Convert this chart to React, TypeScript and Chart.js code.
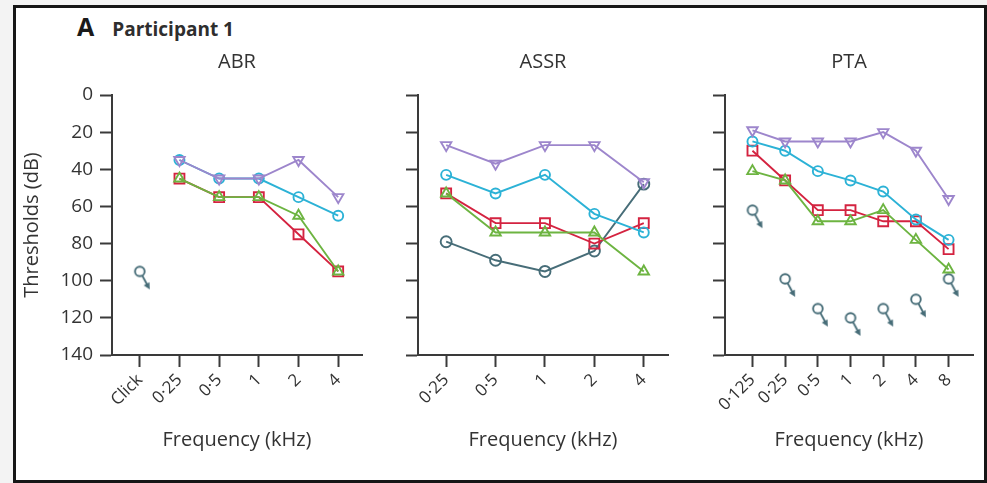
import React, { useEffect, useRef } from 'react';
import { Chart, registerables } from 'chart.js';

Chart.register(...registerables);

// ---------- data ----------
const abrLabels = ['Click', '0·25', '0·5', '1', '2', '4'];
const abrPurple = [null, 35, 45, 45, 35, 55];
const abrCyan = [null, 35, 45, 45, 55, 65];
const abrGreen = [null, 45, 55, 55, 65, 95];
const abrRed = [null, 45, 55, 55, 75, 95];
const abrNoResponse = [95, null, null, null, null, null];

const assrLabels = ['0·25', '0·5', '1', '2', '4'];
const assrPurple = [27, 37, 27, 27, 47];
const assrCyan = [43, 53, 43, 64, 74];
const assrRed = [53, 69, 69, 80, 69];
const assrGreen = [53, 74, 74, 74, 95];
const assrTeal = [79, 89, 95, 84, 48];

const ptaLabels = ['0·125', '0·25', '0·5', '1', '2', '4', '8'];
const ptaPurple = [19, 25, 25, 25, 20, 30, 56];
const ptaCyan = [25, 30, 41, 46, 52, 67, 78];
const ptaRed = [30, 46, 62, 62, 68, 68, 83];
const ptaGreen = [41, 46, 68, 68, 62, 78, 94];
const ptaNoResponse = [62, 99, 115, 120, 115, 110, 99];

const yTicks = [0, 20, 40, 60, 80, 100, 120, 140];

// ---------- styles ----------
const FONT = '"Open Sans", sans-serif';
const AXIS = '#3a3a3a';
const TEXT = '#333333';
const PURPLE = '#9d86cc';
const CYAN = '#2cb2d6';
const RED = '#d42340';
const GREEN = '#6db441';
const TEAL = '#476d78';

function toPoints(arr: (number | null)[]) {
  const out: { x: number; y: number }[] = [];
  arr.forEach((v, i) => {
    if (v !== null && v !== undefined) out.push({ x: i, y: v });
  });
  return out;
}

function makeNoResponseMarker(color: string) {
  const c = document.createElement('canvas');
  c.width = 26;
  c.height = 44;
  const ctx = c.getContext('2d')!;
  const cx = 13, cy = 22, r = 4.8;
  ctx.strokeStyle = color;
  ctx.fillStyle = color;
  ctx.lineWidth = 1.9;
  ctx.beginPath();
  ctx.arc(cx, cy, r, 0, Math.PI * 2);
  ctx.stroke();
  const dx = 0.5, dy = 0.866;
  const ex = cx + 10, ey = cy + 18;
  ctx.beginPath();
  ctx.moveTo(cx + dx * r, cy + dy * r);
  ctx.lineTo(ex - dx * 4, ey - dy * 4);
  ctx.stroke();
  const L = 6.5, W = 3.3;
  const bx = ex - dx * L, by = ey - dy * L;
  const px = -dy, py = dx;
  ctx.beginPath();
  ctx.moveTo(ex, ey);
  ctx.lineTo(bx + px * W, by + py * W);
  ctx.lineTo(bx - px * W, by - py * W);
  ctx.closePath();
  ctx.fill();
  return c;
}

function series(data: (number | null)[], color: string, style: string, radius: number, rotation = 0, showLine = true) {
  return {
    data: toPoints(data),
    borderColor: color,
    backgroundColor: 'rgba(0,0,0,0)',
    pointBackgroundColor: 'rgba(0,0,0,0)',
    pointBorderColor: color,
    pointStyle: style,
    pointRotation: rotation,
    pointRadius: radius,
    pointBorderWidth: 1.9,
    borderWidth: 1.9,
    tension: 0,
    showLine,
    clip: false as any,
  };
}

type PanelProps = {
  left: number;
  width: number;
  title: string;
  labels: string[];
  xMin: number;
  xMax: number;
  yAxisWidth: number;
  showYLabels: boolean;
  padRight: number;
  build: () => any[];
};

function Panel(p: PanelProps) {
  const ref = useRef<HTMLCanvasElement | null>(null);
  useEffect(() => {
    const canvas = ref.current!;
    const chart = new Chart(canvas, {
      type: 'line',
      data: { datasets: p.build() },
      options: {
        responsive: false,
        animation: false,
        layout: { padding: { top: 0, bottom: 0, left: 0, right: p.padRight } },
        plugins: {
          legend: { display: false },
          tooltip: { enabled: false },
          title: {
            display: true,
            text: p.title,
            fullSize: false,
            color: TEXT,
            font: { family: FONT, size: 20, weight: 'normal' as any },
            padding: { top: 50, bottom: 21 },
          },
        },
        scales: {
          x: {
            type: 'linear',
            min: p.xMin,
            max: p.xMax,
            afterBuildTicks: (scale: any) => {
              scale.ticks = p.labels.map((_, i) => ({ value: i }));
            },
            afterFit: (scale: any) => {
              scale.height = 128;
            },
            ticks: {
              autoSkip: false,
              minRotation: 45,
              maxRotation: 45,
              padding: 3,
              color: TEXT,
              font: { family: FONT, size: 17 },
              callback: (v: any) => p.labels[Math.round(Number(v))] ?? '',
            },
            grid: {
              display: true,
              drawOnChartArea: false,
              drawTicks: true,
              tickLength: 12,
              tickWidth: 2,
              tickColor: AXIS,
              color: AXIS,
            },
            border: { display: true, color: AXIS, width: 2 },
            title: {
              display: true,
              text: 'Frequency (kHz)',
              color: TEXT,
              font: { family: FONT, size: 20 },
              padding: { top: 0, bottom: 31 },
            },
          },
          y: {
            type: 'linear',
            reverse: true,
            min: 0,
            max: 140,
            afterBuildTicks: (scale: any) => {
              scale.ticks = yTicks.map((v) => ({ value: v }));
            },
            afterFit: (scale: any) => {
              scale.width = p.yAxisWidth;
            },
            ticks: {
              display: p.showYLabels,
              padding: 7,
              color: TEXT,
              font: { family: FONT, size: 19 },
            },
            grid: {
              display: true,
              drawOnChartArea: false,
              drawTicks: true,
              tickLength: 12,
              tickWidth: 2,
              tickColor: AXIS,
              color: AXIS,
            },
            border: { display: true, color: AXIS, width: 2 },
            title: {
              display: p.showYLabels,
              text: 'Thresholds (dB)',
              color: TEXT,
              font: { family: FONT, size: 20 },
              padding: { top: 4, bottom: 0 },
            },
          },
        },
      } as any,
    });
    return () => chart.destroy();
  }, []);
  return (
    <canvas
      ref={ref}
      width={p.width}
      height={483}
      style={{ position: 'absolute', left: p.left, top: 0, width: p.width, height: 483 }}
    />
  );
}

export default function App() {
  const buildAbr = () => {
    const nr = makeNoResponseMarker(TEAL);
    return [
      series(abrGreen, GREEN, 'triangle', 6),
      series(abrRed, RED, 'rect', 7),
      series(abrPurple, PURPLE, 'triangle', 6, 180),
      series(abrCyan, CYAN, 'circle', 5),
      { ...series(abrNoResponse, TEAL, 'circle', 5, 0, false), pointStyle: nr },
    ];
  };
  const buildAssr = () => [
    series(assrPurple, PURPLE, 'triangle', 6, 180),
    series(assrCyan, CYAN, 'circle', 5),
    series(assrGreen, GREEN, 'triangle', 6),
    series(assrRed, RED, 'rect', 7),
    series(assrTeal, TEAL, 'circle', 5.5),
  ];
  const buildPta = () => {
    const nr = makeNoResponseMarker(TEAL);
    return [
      series(ptaPurple, PURPLE, 'triangle', 6, 180),
      series(ptaCyan, CYAN, 'circle', 5),
      series(ptaGreen, GREEN, 'triangle', 6),
      series(ptaRed, RED, 'rect', 7),
      { ...series(ptaNoResponse, TEAL, 'circle', 5, 0, false), pointStyle: nr },
    ];
  };

  return (
    <div style={{ position: 'fixed', left: 0, top: 0, width: 987, height: 483, background: '#f3f3f3', overflow: 'hidden' }}>
      <div
        style={{
          position: 'absolute',
          left: 13,
          top: 5,
          width: 987 - 13,
          height: 483 - 5,
          boxSizing: 'border-box',
          border: '3px solid #161616',
          background: '#ffffff',
        }}
      />
      <div
        style={{
          position: 'absolute',
          left: 77,
          top: 14,
          lineHeight: '24px',
          fontFamily: FONT,
          fontWeight: 700,
          whiteSpace: 'nowrap',
          color: '#222',
        }}
      >
        <span style={{ fontSize: 25, color: '#1a1a1a' }}>A</span>
        <span style={{ fontSize: 19, marginLeft: 18, color: '#2e2e2e' }}>Participant 1</span>
      </div>
      <Panel left={16} width={370} title="ABR" labels={abrLabels} xMin={-0.7} xMax={5.6} yAxisWidth={96} showYLabels={true} padRight={24} build={buildAbr} />
      <Panel left={390} width={300} title="ASSR" labels={assrLabels} xMin={-0.57} xMax={4.49} yAxisWidth={28} showYLabels={false} padRight={22} build={buildAssr} />
      <Panel left={697} width={285} title="PTA" labels={ptaLabels} xMin={-0.84} xMax={6.75} yAxisWidth={28} showYLabels={false} padRight={5} build={buildPta} />
    </div>
  );
}
